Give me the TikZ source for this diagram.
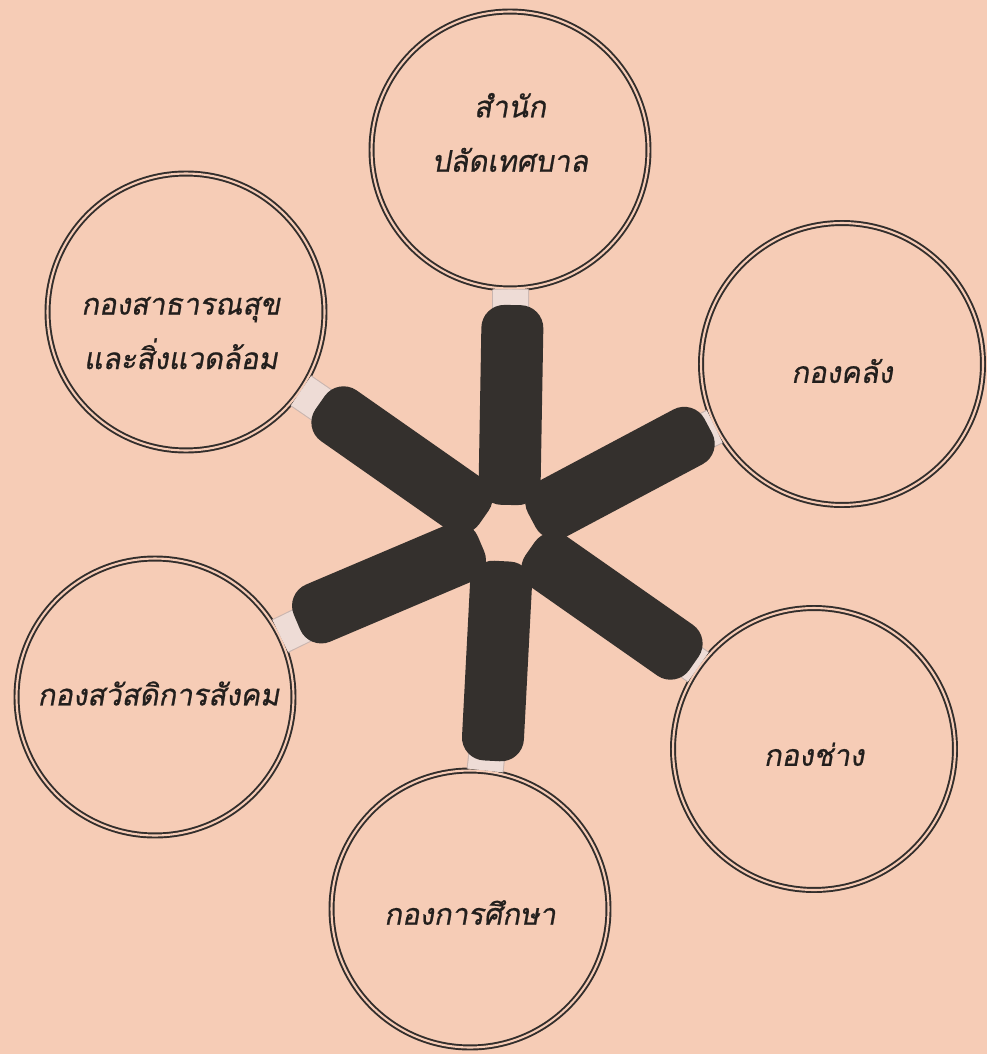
\documentclass[tikz,border=0pt]{standalone}
\usepackage{fontspec}
\newfontfamily\thaifont[Script=Thai,FakeSlant=0.18,FakeStretch=0.98,FakeBold=0.7]{Loma}
\usetikzlibrary{positioning}
\definecolor{paper}{HTML}{F6CCB6}
\definecolor{ring}{HTML}{332E2C}
\definecolor{ink}{HTML}{231F1D}
\definecolor{spokecol}{HTML}{34302D}
\definecolor{stemedge}{HTML}{C9B5AF}
\definecolor{stemfill}{HTML}{EEDCD6}

\begin{document}
\begin{tikzpicture}[
  x=0.02cm, y=-0.02cm,
  office/.style={circle, draw=ring, line width=1.1pt, double=paper, double distance=1.2pt,
                 minimum size=5.54cm, inner sep=0pt},
  caption/.style={align=center, text=ink, inner sep=0pt,
                  font=\thaifont\fontsize{17}{31}\selectfont},
  spoke/.style={rectangle, fill=spokecol, rounded corners=0.46cm,
                minimum width=4cm, minimum height=1.24cm, inner sep=0pt},
  stem/.style={draw=stemedge, double=stemfill, line width=0.6pt, double distance=0.7cm},
]
  \fill[paper] (0,0) rectangle (987,1054);
  \useasboundingbox (0,0) rectangle (987,1054);

  % Offices
  \node[office] (palad) at (510,150) {};
  \node[office] (health) at (186,312) {};
  \node[office, minimum size=5.64cm] (finance) at (842,364) {};
  \node[office] (welfare) at (155,697) {};
  \node[office, minimum size=5.64cm] (works) at (814,749) {};
  \node[office] (edu) at (470,909) {};

  \node[caption, yshift=10pt] (paladtxt) at (palad) {สำนัก\\ปลัดเทศบาล};
  \node[caption, xshift=-3pt, yshift=-12pt] (healthtxt) at (health) {กองสาธารณสุข\\และสิ่งแวดล้อม};
  \node[caption, yshift=-4pt] (financetxt) at (finance) {กองคลัง};
  \node[caption, xshift=2pt, yshift=2pt] (welfaretxt) at (welfare) {กองสวัสดิการสังคม};
  \node[caption, yshift=-3pt] (workstxt) at (works) {กองช่าง};
  \node[caption, yshift=-2pt] (edutxt) at (edu) {กองการศึกษา};

  % Spokes of the hub
  \coordinate (s1) at (511,405);
  \coordinate (s2) at (402,460);
  \coordinate (s3) at (620,473);
  \coordinate (s4) at (389,583);
  \coordinate (s5) at (612,606);
  \coordinate (s6) at (497,661);

  \draw[stem] (s1) -- (palad);
  \draw[stem] (s2) -- (health);
  \draw[stem] (s3) -- (finance);
  \draw[stem] (s4) -- (welfare);
  \draw[stem] (s5) -- (works);
  \draw[stem] (s6) -- (edu);

  \node[spoke, rotate=89] (bar1) at (s1) {};
  \node[spoke, rotate=145] (bar2) at (s2) {};
  \node[spoke, rotate=28] (bar3) at (s3) {};
  \node[spoke, rotate=203] (bar4) at (s4) {};
  \node[spoke, rotate=-35] (bar5) at (s5) {};
  \node[spoke, rotate=-93] (bar6) at (s6) {};

\end{tikzpicture}
\end{document}
